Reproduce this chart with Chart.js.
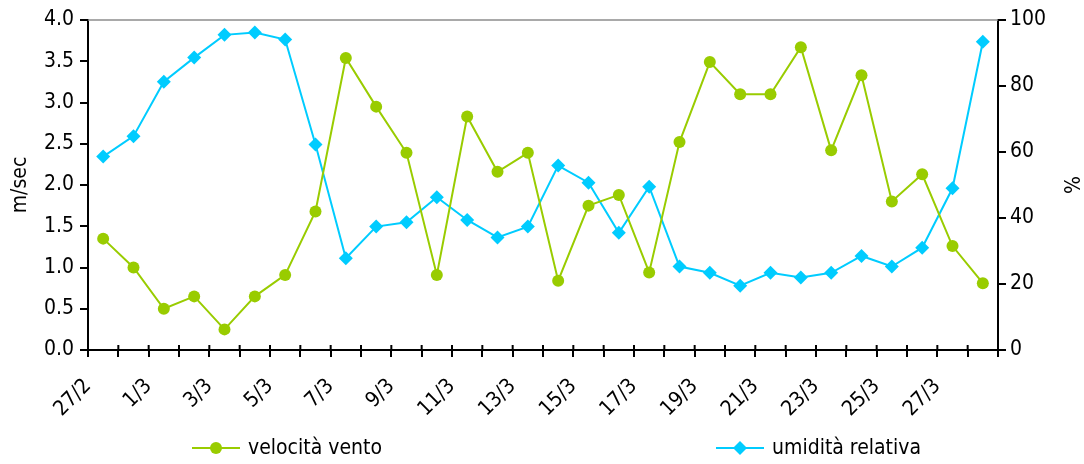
<!DOCTYPE html>
<html>
<head>
<meta charset="utf-8">
<script src="https://cdn.jsdelivr.net/npm/chart.js@4/dist/chart.umd.min.js"></script>
<style>
  html, body { margin: 0; padding: 0; background: #fff; }
  #wrap { width: 1084px; height: 464px; position: relative; }
</style>
</head>
<body>
<div id="wrap"><canvas id="c"></canvas></div>
<script>
// days on the x axis (one per category)
const giorni = ['27/2', '28/2', '1/3', '2/3', '3/3', '4/3', '5/3', '6/3', '7/3', '8/3',
  '9/3', '10/3', '11/3', '12/3', '13/3', '14/3', '15/3', '16/3', '17/3', '18/3',
  '19/3', '20/3', '21/3', '22/3', '23/3', '24/3', '25/3', '26/3', '27/3', '28/3'];

// wind speed, m/sec (left axis)
const velocitaVento = [1.35, 1.0, 0.5, 0.65, 0.25, 0.65, 0.91, 1.68, 3.54, 2.95,
  2.39, 0.91, 2.83, 2.16, 2.39, 0.84, 1.75, 1.88, 0.94, 2.52,
  3.49, 3.10, 3.10, 3.67, 2.42, 3.33, 1.80, 2.13, 1.26, 0.81];

// relative humidity, % (right axis)
const umiditaRelativa = [58.6, 64.8, 81.3, 88.6, 95.5, 96.2, 94.1, 62.3, 27.8, 37.4,
  38.7, 46.3, 39.4, 34.1, 37.4, 55.9, 50.7, 35.5, 49.5, 25.3,
  23.4, 19.5, 23.4, 22.0, 23.4, 28.5, 25.3, 31.0, 49.0, 93.4];

const VERDE = '#99cc00';
const AZZURRO = '#00ccff';
const FONT = "Tahoma, 'DejaVu Sans Condensed', 'DejaVu Sans', sans-serif";
const SIZE = 21;

// points sit in the middle of each day
const toPoints = arr => arr.map((v, i) => ({ x: i + 0.5, y: v }));

// top border of plot, crossing x ticks, spread-out legend
const extras = {
  id: 'extras',
  afterDraw(chart) {
    const ctx = chart.ctx;
    const a = chart.chartArea;
    const xs = chart.scales.x;
    ctx.save();
    ctx.strokeStyle = '#8c8c8c';
    ctx.lineWidth = 1.5;
    ctx.beginPath();
    ctx.moveTo(a.left, a.top);
    ctx.lineTo(a.right, a.top);
    ctx.stroke();

    // upper half of the x tick marks (they cross the axis)
    ctx.strokeStyle = '#000';
    ctx.lineWidth = 2;
    ctx.beginPath();
    for (let i = 1; i < giorni.length; i++) {
      const px = xs.getPixelForValue(i);
      ctx.moveTo(px, a.bottom);
      ctx.lineTo(px, a.bottom - 5);
    }
    ctx.stroke();

    const y = 448;
    const items = [
      { x: 192, color: VERDE, text: 'velocità vento', shape: 'circle' },
      { x: 716, color: AZZURRO, text: 'umidità relativa', shape: 'diamond' }
    ];
    items.forEach(it => {
      ctx.strokeStyle = it.color;
      ctx.fillStyle = it.color;
      ctx.lineWidth = 2;
      ctx.beginPath();
      ctx.moveTo(it.x, y);
      ctx.lineTo(it.x + 48, y);
      ctx.stroke();
      const cx = it.x + 24;
      ctx.beginPath();
      if (it.shape === 'circle') {
        ctx.arc(cx, y, 6, 0, Math.PI * 2);
      } else {
        ctx.moveTo(cx, y - 7);
        ctx.lineTo(cx + 7, y);
        ctx.lineTo(cx, y + 7);
        ctx.lineTo(cx - 7, y);
        ctx.closePath();
      }
      ctx.fill();
      ctx.fillStyle = '#000';
      ctx.font = SIZE + 'px ' + FONT;
      ctx.textBaseline = 'middle';
      ctx.textAlign = 'left';
      ctx.fillText(it.text, it.x + 56, y + 1);
    });
    ctx.restore();
  }
};

new Chart(document.getElementById('c'), {
  type: 'line',
  data: {
    datasets: [
      {
        label: 'velocità vento',
        data: toPoints(velocitaVento),
        yAxisID: 'y',
        borderColor: VERDE,
        backgroundColor: VERDE,
        borderWidth: 2,
        pointStyle: 'circle',
        pointRadius: 6,
        pointBorderWidth: 0,
        tension: 0
      },
      {
        label: 'umidità relativa',
        data: toPoints(umiditaRelativa),
        yAxisID: 'y1',
        borderColor: AZZURRO,
        backgroundColor: AZZURRO,
        borderWidth: 2,
        pointStyle: 'rectRot',
        pointRadius: 7,
        pointBorderWidth: 0,
        tension: 0
      }
    ]
  },
  options: {
    animation: false,
    responsive: true,
    maintainAspectRatio: false,
    layout: { padding: { top: 20, left: 8, right: 2, bottom: 0 } },
    plugins: {
      legend: { display: false },
      tooltip: { enabled: false }
    },
    scales: {
      x: {
        type: 'linear',
        min: 0,
        max: giorni.length,
        afterFit: s => { s.height = 114; },
        afterBuildTicks: s => {
          s.ticks = giorni.map((g, i) => ({ value: i })).concat([{ value: giorni.length }]);
        },
        ticks: {
          autoSkip: false,
          minRotation: 45,
          maxRotation: 45,
          color: '#000',
          font: { family: FONT, size: SIZE },
          padding: 17,
          callback: v => (v % 2 === 0 && v < giorni.length) ? giorni[v] : ''
        },
        grid: {
          drawOnChartArea: false,
          color: '#000',
          lineWidth: 2,
          tickLength: 7
        },
        border: { color: '#000', width: 2 }
      },
      y: {
        position: 'left',
        min: 0,
        max: 4,
        afterFit: s => { s.width = 80; },
        ticks: {
          stepSize: 0.5,
          color: '#000',
          font: { family: FONT, size: SIZE },
          padding: 6,
          callback: v => v.toFixed(1)
        },
        grid: {
          drawOnChartArea: false,
          color: '#000',
          lineWidth: 2,
          tickLength: 8
        },
        border: { color: '#000', width: 2 },
        title: {
          display: true,
          text: 'm/sec',
          color: '#000',
          font: { family: FONT, size: SIZE },
          padding: 0
        }
      },
      y1: {
        position: 'right',
        min: 0,
        max: 100,
        afterFit: s => { s.width = 84; },
        ticks: {
          stepSize: 20,
          color: '#000',
          font: { family: FONT, size: SIZE },
          padding: 4
        },
        grid: {
          drawOnChartArea: false,
          color: '#000',
          lineWidth: 2,
          tickLength: 8
        },
        border: { color: '#000', width: 2 },
        title: {
          display: true,
          text: '%',
          color: '#000',
          font: { family: FONT, size: SIZE },
          padding: 0
        }
      }
    }
  },
  plugins: [extras]
});
</script>
</body>
</html>
